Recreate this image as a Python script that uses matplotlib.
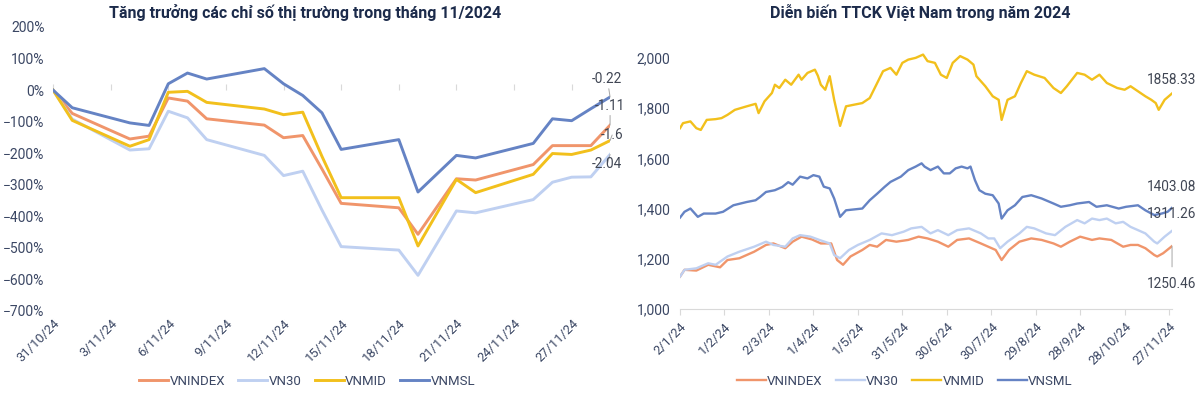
import matplotlib
matplotlib.use("Agg")
import matplotlib.pyplot as plt
import matplotlib.dates as mdates
import numpy as np
import pandas as pd
from matplotlib.ticker import PercentFormatter, FuncFormatter

plt.rcParams["font.family"] = ["Roboto", "DejaVu Sans"]

# ---- left panel: growth in November 2024 (value 1.0 shown as 100%) ----
month_dates = ["31/10/2024", "1/11/2024", "4/11/2024", "5/11/2024", "6/11/2024",
               "7/11/2024", "8/11/2024", "11/11/2024", "12/11/2024", "13/11/2024",
               "14/11/2024", "15/11/2024", "18/11/2024", "19/11/2024", "21/11/2024",
               "22/11/2024", "25/11/2024", "26/11/2024", "27/11/2024", "28/11/2024",
               "29/11/2024"]
m_vnindex = [0, -0.74, -1.55, -1.46, -0.25, -0.35, -0.91, -1.11, -1.51, -1.44, -2.5,
             -3.59, -3.73, -4.57, -2.81, -2.85, -2.36, -1.76, -1.76, -1.76, -1.11]
m_vn30 = [0, -0.92, -1.90, -1.86, -0.67, -0.88, -1.57, -2.07, -2.71, -2.57, -3.8,
          -4.96, -5.07, -5.87, -3.83, -3.89, -3.47, -2.92, -2.76, -2.75, -2.04]
m_vnmid = [0, -0.96, -1.78, -1.57, -0.07, -0.04, -0.39, -0.60, -0.78, -0.70, -2.1,
           -3.41, -3.41, -4.94, -2.83, -3.25, -2.67, -2.01, -2.04, -1.90, -1.6]
m_vnmsl = [0, -0.56, -1.04, -1.12, 0.20, 0.54, 0.35, 0.68, 0.20, -0.17, -0.72,
           -1.88, -1.57, -3.23, -2.07, -2.15, -1.69, -0.91, -0.97, -0.59, -0.22]
left_names = ["VNINDEX", "VN30", "VNMID", "VNMSL"]

# ---- right panel: index levels in 2024 (days counted from 2/1/2024) ----
vnindex_day = [0, 3, 11, 19, 27, 32, 40, 50, 58, 63, 71, 76, 82, 89, 95, 102, 106, 110,
               115, 123, 128, 133, 139, 146, 154, 161, 167, 174, 181, 187, 195, 203, 208,
               213, 217, 222, 229, 237, 244, 252, 257, 263, 270, 278, 283, 291, 299, 304,
               309, 314, 320, 322, 326, 332]
vnindex_val = [1129, 1156, 1153, 1176, 1166, 1195, 1202, 1228, 1255, 1261, 1242, 1268,
               1288, 1277, 1261, 1261, 1195, 1176, 1209, 1235, 1255, 1248, 1275, 1268,
               1275, 1288, 1281, 1268, 1248, 1275, 1281, 1261, 1248, 1235, 1195, 1235,
               1268, 1281, 1275, 1261, 1248, 1268, 1288, 1275, 1281, 1275, 1248, 1255,
               1255, 1242, 1215, 1209, 1222, 1250.46]
vn30_day = [0, 3, 11, 19, 24, 32, 40, 50, 58, 63, 71, 76, 81, 88, 94, 101, 104, 108, 114,
            120, 128, 136, 143, 151, 156, 163, 169, 174, 181, 187, 195, 203, 208, 212, 216,
            221, 229, 234, 239, 247, 253, 260, 268, 273, 278, 283, 288, 294, 299, 304, 309,
            314, 320, 322, 327, 332]
vn30_val = [1129, 1156, 1162, 1182, 1176, 1209, 1228, 1248, 1268, 1255, 1248, 1281, 1294,
            1288, 1275, 1261, 1215, 1202, 1235, 1255, 1275, 1301, 1294, 1308, 1321, 1327,
            1301, 1314, 1294, 1314, 1321, 1301, 1281, 1281, 1242, 1268, 1301, 1327, 1321,
            1301, 1294, 1327, 1354, 1341, 1360, 1354, 1360, 1341, 1347, 1327, 1314, 1301,
            1268, 1261, 1288, 1311.26]
vnmid_day = [0, 2, 7, 11, 14, 18, 24, 28, 32, 37, 45, 51, 53, 57, 62, 64, 67, 71, 75, 80,
             82, 86, 91, 93, 95, 98, 101, 104, 108, 112, 117, 123, 128, 137, 142, 146, 150,
             154, 159, 164, 167, 172, 176, 180, 184, 189, 194, 198, 200, 206, 211, 215, 217,
             221, 226, 230, 234, 239, 246, 252, 257, 261, 268, 273, 278, 283, 288, 295, 300,
             304, 309, 314, 318, 321, 323, 327, 332]
vnmid_val = [1720, 1740, 1747, 1720, 1713, 1753, 1756, 1760, 1773, 1793, 1807, 1817, 1780,
             1827, 1860, 1893, 1880, 1913, 1893, 1933, 1913, 1940, 1953, 1929, 1893, 1873,
             1927, 1833, 1729, 1807, 1813, 1820, 1840, 1947, 1960, 1933, 1980, 1993, 2000,
             2013, 1987, 1980, 1933, 1920, 1980, 2007, 1993, 1973, 1927, 1887, 1847, 1833,
             1753, 1833, 1847, 1900, 1947, 1933, 1920, 1880, 1860, 1887, 1940, 1933, 1913,
             1933, 1900, 1880, 1873, 1887, 1867, 1847, 1833, 1820, 1793, 1833, 1858.33]
vnsml_day = [0, 3, 7, 12, 16, 24, 29, 36, 45, 51, 54, 58, 64, 69, 73, 76, 81, 86, 90, 94,
             97, 101, 104, 108, 112, 123, 128, 133, 138, 142, 149, 154, 159, 163, 165, 169,
             174, 178, 182, 186, 190, 194, 196, 199, 202, 206, 211, 215, 217, 221, 226, 231,
             237, 244, 252, 257, 263, 268, 276, 281, 288, 296, 301, 309, 314, 320, 325, 329,
             332]
vnsml_val = [1364, 1387, 1400, 1367, 1380, 1380, 1387, 1413, 1426, 1433, 1446, 1466, 1473,
             1486, 1505, 1495, 1527, 1520, 1533, 1527, 1487, 1480, 1440, 1367, 1393, 1400,
             1433, 1459, 1486, 1506, 1527, 1553, 1567, 1580, 1567, 1553, 1567, 1540, 1540,
             1560, 1567, 1560, 1567, 1513, 1473, 1459, 1453, 1420, 1360, 1393, 1413, 1446,
             1453, 1440, 1420, 1407, 1413, 1420, 1426, 1407, 1413, 1400, 1407, 1413, 1393,
             1374, 1380, 1387, 1403.08]
right_names = ["VNINDEX", "VN30", "VNMID", "VNSML"]

COLORS = ["#F0956B", "#BFD0F1", "#F2C01C", "#6583C4"]
TXT = "#3B4764"
TITLE = "#1C2B4B"
LBL = "#404654"
AXIS = "#D9D9D9"

fig = plt.figure(figsize=(12, 3.99), dpi=100)

# ---------------- left ----------------
ax1 = fig.add_axes([0.0442, 0.2206, 0.4642, 0.7118])
mdt = pd.to_datetime(month_dates, dayfirst=True)
left_series = [m_vnindex, m_vn30, m_vnmid, m_vnmsl]
for vals, name, c in zip(left_series, left_names, COLORS):
    ax1.plot(mdt, vals, color=c, lw=2.1, label=name, solid_joinstyle="round")
ax1.set_ylim(-7, 2)
ax1.set_yticks(np.arange(-7, 2.01, 1))
ax1.yaxis.set_major_formatter(PercentFormatter(xmax=1, decimals=0))
ax1.set_xlim(mdt[0], mdt[-1])
ticks1 = pd.date_range(mdt[0], mdt[-1], freq="3D")
ax1.set_xticks(ticks1)
ax1.xaxis.set_major_formatter(mdates.DateFormatter("%-d/%-m/%y"))
for s in ax1.spines.values():
    s.set_visible(False)
ax1.tick_params(axis="y", length=0, pad=6, labelsize=10, labelcolor=TXT)
ax1.tick_params(axis="x", length=0, pad=4, labelsize=9.3, labelcolor=TXT)
for lab in ax1.get_xticklabels():
    lab.set_rotation(45)
    lab.set_ha("right")
    lab.set_rotation_mode("anchor")
# horizontal axis line at zero with tick marks
sec = ax1.secondary_xaxis(7 / 9)
sec.set_xticks(ticks1)
sec.tick_params(axis="x", length=4, color=AXIS, labelbottom=False, labeltop=False)
for k in ["top", "left", "right"]:
    sec.spines[k].set_visible(False)
sec.spines["bottom"].set_color(AXIS)

end_labels = {3: (-2, 13), 0: (0, 14), 2: (1.5, 4), 1: (-2, -7)}
for i, (dx, dy) in end_labels.items():
    v = left_series[i][-1]
    ax1.annotate(f"{v:g}", xy=(mdt[-1], v), xytext=(dx, dy), textcoords="offset points",
                 ha="center", va="center", fontsize=9.8, color=LBL,
                 arrowprops=dict(arrowstyle="-", color="#A6A6A6", lw=0.7,
                                 shrinkA=0, shrinkB=0))

fig.text(0.254, 0.968, "Tăng trưởng các chỉ số thị trường trong tháng 11/2024",
         ha="center", va="center", fontsize=11.5, fontweight="bold", color=TITLE)
fig.legend(*ax1.get_legend_handles_labels(), loc="center", ncol=4,
           bbox_to_anchor=(0.256, 0.045), frameon=False, fontsize=9.5,
           handlelength=2.2, handletextpad=0.1, columnspacing=1.0, labelcolor=TXT)

# ---------------- right ----------------
ax2 = fig.add_axes([0.5667, 0.2256, 0.41, 0.7068])
start = pd.Timestamp("2024-01-02")
right_series = [(vnindex_day, vnindex_val), (vn30_day, vn30_val),
                (vnmid_day, vnmid_val), (vnsml_day, vnsml_val)]
for (d, v), name, c in zip(right_series, right_names, COLORS):
    ax2.plot(start + pd.to_timedelta(d, unit="D"), v, color=c, lw=1.7, label=name,
             solid_joinstyle="round")
ax2.set_ylim(1000, 2123)
ax2.set_yticks(np.arange(1000, 2001, 200))
ax2.yaxis.set_major_formatter(FuncFormatter(lambda y, p: f"{y:,.0f}"))
end2 = start + pd.Timedelta(days=332)
ax2.set_xlim(start, end2)
ticks2 = pd.date_range(start, periods=12, freq="30D")
ax2.set_xticks(ticks2)
ax2.xaxis.set_major_formatter(mdates.DateFormatter("%-d/%-m/%y"))
for k in ["top", "left", "right"]:
    ax2.spines[k].set_visible(False)
ax2.spines["bottom"].set_color(AXIS)
ax2.tick_params(axis="y", length=0, pad=7, labelsize=10, labelcolor=TXT)
ax2.tick_params(axis="x", length=4, color=AXIS, pad=4, labelsize=9.3, labelcolor=TXT)
for lab in ax2.get_xticklabels():
    lab.set_rotation(45)
    lab.set_ha("right")
    lab.set_rotation_mode("anchor")

right_labels = {2: (0, 10), 3: (0, 15), 1: (0, 12), 0: (0, -27)}
for i, (dx, dy) in right_labels.items():
    v = right_series[i][1][-1]
    ax2.annotate(f"{v:.2f}", xy=(end2, v), xytext=(dx, dy), textcoords="offset points",
                 ha="center", va="center", fontsize=9.8, color=LBL,
                 arrowprops=dict(arrowstyle="-", color="#A6A6A6", lw=0.7,
                                 shrinkA=5, shrinkB=0) if i == 0 else None)

fig.text(0.767, 0.968, "Diễn biến TTCK Việt Nam trong năm 2024",
         ha="center", va="center", fontsize=11.5, fontweight="bold", color=TITLE)
fig.legend(*ax2.get_legend_handles_labels(), loc="center", ncol=4,
           bbox_to_anchor=(0.754, 0.045), frameon=False, fontsize=9.5,
           handlelength=2.2, handletextpad=0.1, columnspacing=1.0, labelcolor=TXT)

fig.savefig("out.png", dpi=100, facecolor="white")
